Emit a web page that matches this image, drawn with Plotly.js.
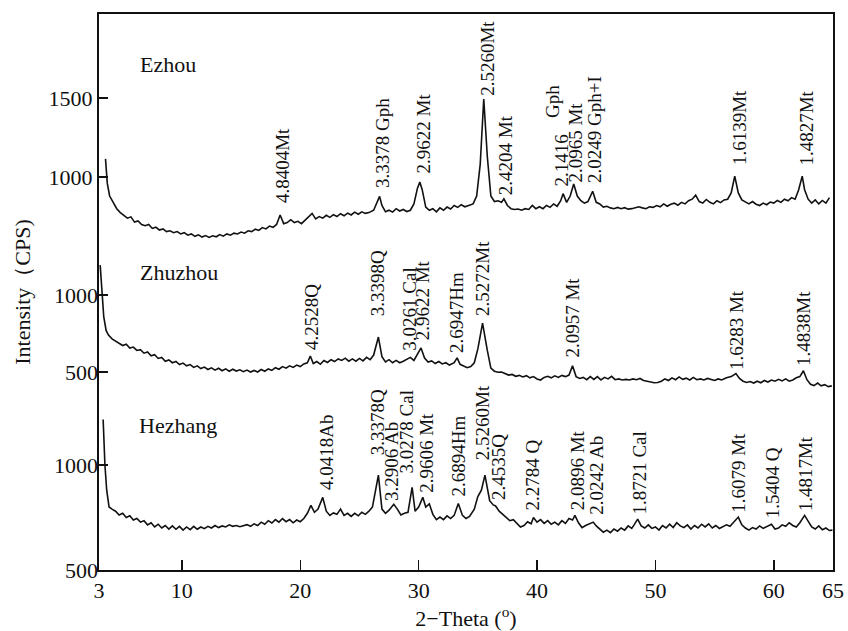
<!DOCTYPE html>
<html>
<head>
<meta charset="utf-8">
<script src="https://cdn.plot.ly/plotly-3.0.1.min.js"></script>
<style>html,body{margin:0;padding:0;background:#fff;}#chart{width:848px;height:631px;}</style>
</head>
<body>
<div id="chart"></div>
<script>
// ---- Data (2-Theta in degrees, intensity in CPS) ----
const sampleNames = ["Ezhou", "Zhuzhou", "Hezhang"];

const ezhouTheta = [3.55,3.7,3.9,4.2,4.5,4.8,5.1,5.4,5.7,6.0,6.3,6.6,6.9,7.2,7.5,7.8,8.1,8.4,8.7,9.0,9.3,9.6,9.9,10.2,10.5,10.8,11.1,11.4,11.7,12.0,12.3,12.6,12.9,13.2,13.5,13.8,14.1,14.4,14.7,15.0,15.3,15.6,15.9,16.2,16.5,16.8,17.1,17.4,17.7,18.0,18.3,18.6,18.9,19.2,19.5,19.8,20.1,20.4,21.0,21.3,21.6,21.9,22.2,22.5,22.8,23.1,23.4,23.7,24.0,24.3,24.6,24.9,25.2,25.5,25.8,26.2,26.5,26.7,26.9,27.2,27.5,27.8,28.1,28.4,28.7,29.0,29.3,29.6,29.9,30.1,30.3,30.6,30.9,31.2,31.5,31.8,32.1,32.4,32.7,33.0,33.3,33.6,33.9,34.2,34.6,34.9,35.2,35.5,35.8,36.1,36.4,36.7,37.0,37.2,37.5,37.8,38.1,38.4,38.7,39.0,39.3,39.6,39.9,40.2,40.5,40.8,41.1,41.4,41.7,42.0,42.2,42.5,42.8,43.1,43.4,43.7,44.0,44.3,44.7,45.0,45.3,45.6,45.9,46.2,46.5,46.8,47.1,47.4,47.7,48.0,48.3,48.6,48.9,49.2,49.5,49.8,50.1,50.4,50.7,51.0,51.3,51.6,51.9,52.2,52.5,52.8,53.1,53.4,53.7,54.0,54.3,54.6,54.9,55.2,55.5,55.8,56.1,56.4,56.7,57.0,57.3,57.6,57.9,58.2,58.5,58.8,59.1,59.4,59.7,60.0,60.3,60.6,60.9,61.2,61.5,61.8,62.1,62.4,62.6,62.9,63.2,63.5,63.8,64.1,64.4,64.7,64.9];
const ezhouCPS = [1115,960,880,835,800,775,760,740,748,715,722,700,692,700,675,683,665,672,655,660,648,655,640,648,632,640,625,634,620,630,618,628,622,636,626,640,632,645,640,652,645,660,655,670,662,680,672,690,682,700,760,705,712,730,712,720,705,725,770,735,750,740,758,745,762,750,768,755,772,760,778,765,780,770,775,790,840,878,820,780,790,778,800,785,795,782,790,830,930,968,920,810,790,800,780,805,790,810,798,820,808,825,812,820,830,880,1080,1494,1130,880,845,850,840,862,820,800,795,798,790,800,795,820,800,812,800,820,808,830,815,850,895,840,880,956,880,850,835,845,910,840,830,810,815,805,800,808,800,806,797,800,806,812,805,800,812,808,820,812,830,815,828,835,822,840,830,850,860,885,845,835,858,840,830,850,838,855,860,900,1006,900,855,842,830,845,828,820,835,825,842,835,852,840,860,850,870,860,920,1006,920,860,835,855,830,852,835,870];

const zhuzhouTheta = [3.1,3.25,3.4,3.6,3.8,4.1,4.4,4.7,5.0,5.3,5.6,5.9,6.2,6.5,6.8,7.1,7.4,7.7,8.0,8.3,8.6,8.9,9.2,9.5,9.8,10.1,10.4,10.7,11.0,11.3,11.6,11.9,12.2,12.5,12.8,13.1,13.4,13.7,14.0,14.3,14.6,14.9,15.2,15.5,15.8,16.1,16.4,16.7,17.0,17.3,17.6,17.9,18.2,18.5,18.8,19.1,19.4,19.7,20.0,20.3,20.6,20.85,21.1,21.4,21.7,22.0,22.3,22.6,22.9,23.2,23.5,23.8,24.1,24.4,24.7,25.0,25.3,25.6,25.9,26.2,26.6,26.9,27.2,27.5,27.8,28.1,28.4,28.7,29.0,29.3,29.6,29.9,30.2,30.5,30.8,31.1,31.4,31.7,32.0,32.3,32.6,33.0,33.25,33.5,33.8,34.1,34.4,34.7,35.0,35.4,35.8,36.1,36.4,36.7,37.0,37.3,37.6,37.9,38.2,38.5,38.8,39.1,39.4,39.7,40.0,40.3,40.6,40.9,41.2,41.5,41.8,42.1,42.4,42.7,43.0,43.3,43.6,43.9,44.2,44.5,44.8,45.1,45.4,45.7,46.0,46.3,46.6,46.9,47.2,47.5,47.8,48.1,48.4,48.7,49.0,49.3,49.6,49.9,50.2,50.5,50.8,51.1,51.4,51.7,52.0,52.3,52.6,52.9,53.2,53.5,53.8,54.1,54.4,54.7,55.0,55.3,55.6,56.0,56.4,56.8,57.1,57.4,57.7,58.0,58.3,58.6,58.9,59.2,59.5,59.8,60.1,60.4,60.7,61.0,61.3,61.6,61.9,62.2,62.5,62.8,63.1,63.4,63.7,64.0,64.3,64.6,64.9];
const zhuzhouCPS = [1194,1000,860,770,740,715,700,690,672,680,655,662,640,645,622,630,605,612,588,595,570,578,560,568,548,558,540,548,530,540,522,532,516,527,512,524,508,520,505,518,506,514,502,512,500,510,500,516,505,520,510,528,518,535,525,540,530,545,535,552,560,604,555,568,550,575,562,580,568,585,575,590,570,585,570,588,572,595,580,610,727,600,565,580,560,575,560,570,582,595,575,620,656,590,565,572,555,568,552,560,545,560,592,550,540,528,535,560,650,818,640,525,505,498,500,488,480,484,472,478,468,476,462,470,455,448,465,472,462,475,465,478,470,480,540,470,458,465,450,470,452,470,448,465,455,472,450,455,448,452,448,455,450,458,445,440,433,430,432,440,455,445,462,450,468,452,460,448,465,450,455,448,458,450,445,455,448,462,470,490,458,440,432,438,428,440,430,445,435,448,440,452,442,455,440,448,462,470,508,450,420,412,428,410,418,405,410];

const hezhangTheta = [3.35,3.5,3.65,3.85,4.1,4.4,4.7,5.0,5.3,5.6,5.9,6.2,6.5,6.8,7.1,7.4,7.7,8.0,8.3,8.6,8.9,9.2,9.5,9.8,10.1,10.4,10.7,11.0,11.3,11.6,11.9,12.2,12.5,12.8,13.1,13.4,13.7,14.0,14.3,14.6,14.9,15.2,15.5,15.8,16.1,16.4,16.7,17.0,17.3,17.6,17.9,18.2,18.5,18.8,19.1,19.4,19.7,20.0,20.3,20.6,20.9,21.2,21.5,21.9,22.2,22.5,22.8,23.1,23.4,23.7,24.0,24.3,24.6,24.9,25.2,25.5,25.8,26.1,26.6,26.9,27.2,27.5,27.9,28.2,28.5,28.8,29.1,29.45,29.7,30.0,30.35,30.6,30.9,31.2,31.5,31.8,32.1,32.4,32.7,33.0,33.35,33.7,34.0,34.3,34.7,35.0,35.3,35.6,36.0,36.3,36.5,36.8,37.1,37.4,37.7,38.0,38.3,38.6,38.9,39.2,39.5,39.7,40.0,40.3,40.6,40.9,41.2,41.5,41.8,42.1,42.4,42.7,43.0,43.2,43.5,43.8,44.1,44.4,44.75,45.0,45.3,45.6,45.9,46.2,46.5,46.8,47.1,47.4,47.7,48.0,48.2,48.5,48.8,49.1,49.4,49.7,50.0,50.3,50.6,50.9,51.2,51.5,51.8,52.1,52.4,52.7,53.0,53.3,53.6,53.9,54.2,54.5,54.8,55.1,55.4,55.7,56.0,56.3,56.6,57.0,57.3,57.6,57.9,58.2,58.5,58.8,59.1,59.4,59.8,60.1,60.4,60.7,61.0,61.3,61.6,61.9,62.2,62.6,62.9,63.2,63.5,63.8,64.1,64.4,64.7,64.95];
const hezhangCPS = [1217,1000,880,800,790,780,762,770,750,758,738,745,728,735,715,725,705,718,700,712,695,710,694,708,690,705,692,708,694,705,697,708,700,712,702,710,705,715,708,712,706,712,716,708,720,712,728,718,735,724,740,728,745,730,740,725,738,730,745,770,808,775,790,846,780,760,772,765,790,760,770,755,770,758,775,765,780,800,952,790,770,785,813,790,762,770,775,894,780,800,846,800,815,765,740,752,740,758,745,760,817,760,745,755,790,850,880,952,830,810,805,780,765,750,735,740,720,705,712,730,720,750,728,740,722,735,718,728,715,735,722,745,738,760,725,702,712,718,728,710,695,680,690,678,695,685,700,690,710,698,715,742,710,700,715,698,705,690,712,700,718,702,725,710,702,715,695,712,700,718,705,720,700,712,698,705,715,708,725,752,715,700,690,702,695,710,698,706,718,695,700,715,708,725,712,705,725,760,730,705,695,710,692,700,688,690];

// Peak labels: [text, 2-Theta, intensity at label base]
const ezhouLabels = [
  ["4.8404Mt", 18.5, 823], ["3.3378 Gph", 26.9, 918], ["2.9622 Mt", 30.4, 1013],
  ["2.5260Mt", 35.8, 1500], ["2.4204 Mt", 37.3, 873], ["2.1416", 42.05, 930],
  ["Gph", 41.3, 1361], ["2.0965 Mt", 43.25, 949], ["2.0249 Gph+I", 44.85, 949],
  ["1.6139Mt", 57.1, 1063], ["1.4827Mt", 62.8, 1063]
];
const zhuzhouLabels = [
  ["4.2528Q", 21.0, 630], ["3.3398Q", 26.6, 851], ["3.0261 Cal", 29.2, 623],
  ["2.9622 Mt", 30.4, 695], ["2.6947Hm", 33.2, 610], ["2.5272Mt", 35.4, 851],
  ["2.0957 Mt", 43.0, 578], ["1.6283 Mt", 56.9, 500], ["1.4838Mt", 62.5, 526]
];
const hezhangLabels = [
  ["4.0418Ab", 22.2, 871], ["3.3378Q", 26.5, 1038], ["3.2906 Ab", 27.7, 819],
  ["3.0278 Cal", 29.0, 952], ["2.9606 Mt", 30.6, 857], ["2.6894Hm", 33.4, 843],
  ["2.5260Mt", 35.4, 1014], ["2.4535Q", 36.8, 824], ["2.2784 Q", 39.65, 776],
  ["2.0896 Mt", 43.4, 776], ["2.0242 Ab", 45.0, 752], ["1.8721 Cal", 48.7, 752],
  ["1.6079 Mt", 57.05, 762], ["1.5404 Q", 59.9, 738], ["1.4817Mt", 62.7, 771]
];
// sample name label positions: [2-Theta, intensity]
const nameTheta = [6.3, 6.3, 6.2];
const nameCPS = [1715, 1143, 1190];

const xTicks = [3, 10, 20, 30, 40, 50, 60, 65];
const ezhouTicks = [1000, 1500];
const zhuzhouTicks = [500, 1000];
const hezhangTicks = [500, 1000];

// ---- Plot ----
const FONT = "Liberation Serif, Times New Roman, serif";
const lineStyle = {color: "#111", width: 1.6};
const traces = [
  {x: ezhouTheta, y: ezhouCPS, yaxis: "y", name: sampleNames[0]},
  {x: zhuzhouTheta, y: zhuzhouCPS, yaxis: "y2", name: sampleNames[1]},
  {x: hezhangTheta, y: hezhangCPS, yaxis: "y3", name: sampleNames[2]}
].map(t => Object.assign(t, {type: "scatter", mode: "lines", line: lineStyle, hoverinfo: "x+y"}));

const annotations = [];
function addLabels(list, yref) {
  list.forEach(l => annotations.push({
    text: l[0], x: l[1], y: l[2], xref: "x", yref: yref, textangle: -90,
    xanchor: "center", yanchor: "bottom", showarrow: false,
    font: {family: FONT, size: 19, color: "#111"}
  }));
}
addLabels(ezhouLabels, "y");
addLabels(zhuzhouLabels, "y2");
addLabels(hezhangLabels, "y3");
["y", "y2", "y3"].forEach((r, i) => annotations.push({
  text: sampleNames[i], x: nameTheta[i], y: nameCPS[i], xref: "x", yref: r,
  xanchor: "left", yanchor: "middle", showarrow: false,
  font: {family: FONT, size: 22, color: "#111"}
}));

const yBase = {
  showgrid: false, zeroline: false, ticks: "inside", ticklen: 9, tickwidth: 1.5,
  tickcolor: "#111", anchor: "x", side: "left",
  tickfont: {family: FONT, size: 22, color: "#111"}
};

const layout = {
  width: 848, height: 631,
  margin: {l: 99, r: 15, t: 14, b: 61},
  paper_bgcolor: "#fff", plot_bgcolor: "#fff",
  showlegend: false,
  font: {family: FONT, color: "#111"},
  xaxis: {
    range: [3, 65], tickvals: xTicks, ticktext: xTicks.map(String),
    ticks: "inside", ticklen: 10, tickwidth: 1.5, tickcolor: "#111",
    showline: true, linecolor: "#111", linewidth: 2, mirror: true,
    showgrid: false, zeroline: false,
    tickfont: {family: FONT, size: 22, color: "#111"},
    title: {text: "2−Theta (<sup>o</sup>)", font: {family: FONT, size: 22, color: "#111"}, standoff: 8}
  },
  yaxis: Object.assign({}, yBase, {
    range: [-1487, 2032], tickvals: ezhouTicks, ticktext: ezhouTicks.map(String),
    showline: true, linecolor: "#111", linewidth: 2, mirror: true,
    title: {text: "Intensity（CPS)", font: {family: FONT, size: 22, color: "#111"}, standoff: 12}
  }),
  yaxis2: Object.assign({}, yBase, {
    overlaying: "y", range: [-786, 2825], tickvals: zhuzhouTicks, ticktext: zhuzhouTicks.map(String),
    showline: false
  }),
  yaxis3: Object.assign({}, yBase, {
    overlaying: "y", range: [500, 3148], tickvals: hezhangTicks, ticktext: hezhangTicks.map(String),
    showline: false
  }),
  annotations: annotations
};

Plotly.newPlot("chart", traces, layout, {displayModeBar: false, staticPlot: true});
</script>
</body>
</html>
